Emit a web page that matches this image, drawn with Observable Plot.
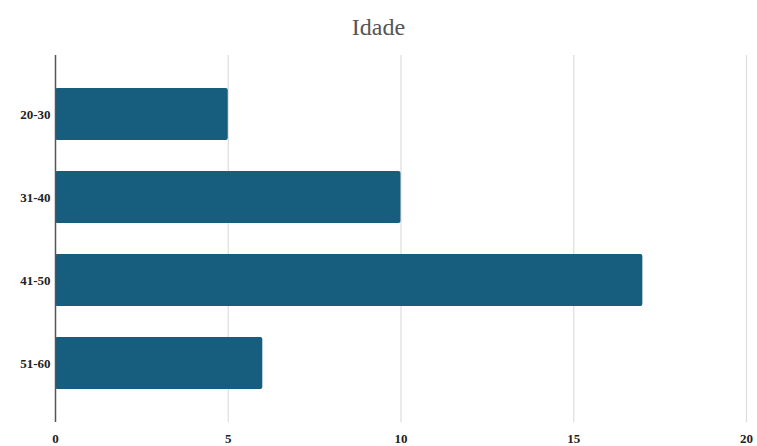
<!DOCTYPE html>
<html>
<head>
<meta charset="utf-8">
<script src="https://cdn.jsdelivr.net/npm/d3@7"></script>
<script src="https://cdn.jsdelivr.net/npm/@observablehq/plot@0.6"></script>
<style>
  html, body { margin: 0; padding: 0; background: #fff; }
  #title { height: 50px; line-height: 54px; text-align: center; font-family: "Liberation Serif", "DejaVu Serif", serif; font-size: 24px; color: #555; }
</style>
</head>
<body>
<div id="title">Idade</div>
<div id="chart"></div>
<script>
const categories = ["20-30", "31-40", "41-50", "51-60"];
const values = [5, 10, 17, 6];
const xTicks = [0, 5, 10, 15, 20];

const data = categories.map((c, i) => ({ faixa: c, valor: values[i] }));

const chart = Plot.plot({
  width: 757,
  height: 396,
  marginTop: 5,
  marginBottom: 24,
  marginLeft: 55,
  marginRight: 11,
  style: { fontFamily: "Liberation Serif, serif", fontSize: "13px", fontWeight: "bold", color: "#222", background: "#fff" },
  x: { domain: [0, 20], ticks: xTicks, label: null, tickSize: 0, tickPadding: 11 },
  y: { domain: categories, padding: 0.37, label: null, tickSize: 0, tickPadding: 5 },
  marks: [
    Plot.ruleX(xTicks.filter(d => d > 0), { stroke: "#ddd", strokeWidth: 1.2 }),
    Plot.barX(data, { x: "valor", y: "faixa", fill: "#175d7e", rx: 2 }),
    Plot.ruleX([0], { stroke: "#555", strokeWidth: 1.5 })
  ]
});
document.getElementById("chart").appendChild(chart);
</script>
</body>
</html>
